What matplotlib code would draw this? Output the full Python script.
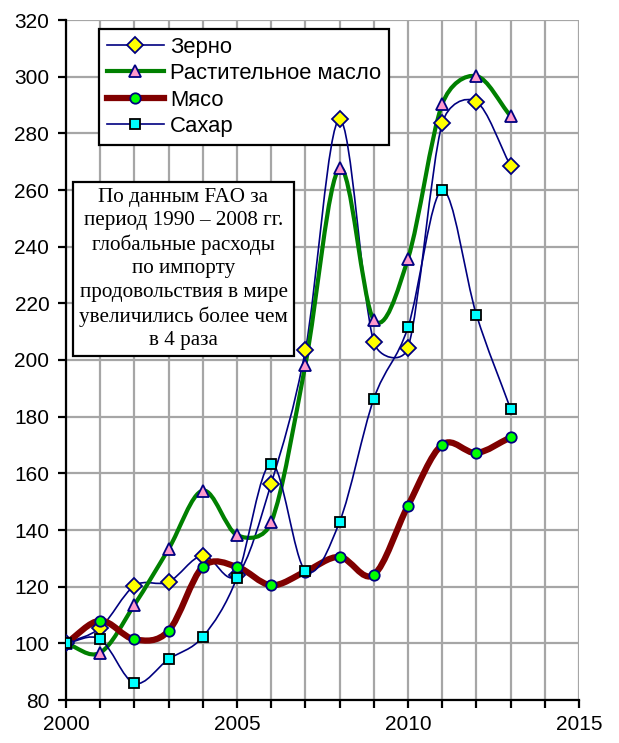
import numpy as np
import matplotlib
matplotlib.use("Agg")
import matplotlib.pyplot as plt
from matplotlib.path import Path
from matplotlib.patches import PathPatch
from matplotlib.lines import Line2D

# data (index, 2000 = 100)
years = list(range(2000, 2014))
grain = [100, 105.5, 120.3, 121.7, 131, 124, 156.4, 203.6, 284.9, 206.3, 204.3, 283.5, 291.1, 268.5]
veg_oil = [100, 96.7, 113.6, 133.3, 153.9, 138.2, 142.7, 198.4, 267.6, 214.2, 235.8, 290.3, 300.2, 286.1]
meat = [100, 108, 101.4, 104.4, 127, 127, 120.5, 125.3, 130.5, 124.2, 148.6, 170.1, 167.2, 172.7]
sugar = [100, 101.4, 85.9, 94.4, 102.3, 123.2, 163.4, 125.6, 142.9, 186.3, 211.6, 259.9, 216, 182.7]

labels = ["Зерно", "Растительное масло", "Мясо", "Сахар"]
note = ("По данным FAO за\nпериод 1990 – 2008 гг.\nглобальные расходы\nпо импорту\n"
        "продовольствия в мире\nувеличились более чем\nв 4 раза")

NAVY = "#000080"


def smooth_path(ax, x, y):
    # excel-like smoothed line, control points worked out in screen space
    tr = ax.transData
    p = tr.transform(np.column_stack([x, y]))
    n = len(p)
    verts = [p[0]]
    codes = [Path.MOVETO]
    for i in range(n - 1):
        p1, p2 = p[i], p[i + 1]
        p0 = p[i - 1] if i > 0 else p1
        p3 = p[i + 2] if i + 2 < n else p2
        d12 = np.hypot(*(p2 - p1))
        d02 = np.hypot(*(p2 - p0))
        d13 = np.hypot(*(p3 - p1))
        f1 = 1 / 6 if i > 0 else 1 / 3
        f2 = 1 / 6 if i + 2 < n else 1 / 3
        f1 = min(f1, d12 / 2 / d02)
        f2 = min(f2, d12 / 2 / d13)
        c1 = p1 + (p2 - p0) * f1
        c2 = p2 - (p3 - p1) * f2
        verts += [c1, c2, p2]
        codes += [Path.CURVE4] * 3
    verts = tr.inverted().transform(np.array(verts))
    return Path(verts, codes)


fig = plt.figure(figsize=(6.19, 7.43), dpi=100)
ax = fig.add_axes([66 / 619, 1 - 700 / 743, (579 - 66) / 619, (700 - 20) / 743])
ax.set_xlim(2000, 2015)
ax.set_ylim(80, 320)

series = [
    (grain, NAVY, 1.2, "D", "#ffff00", 8),
    (veg_oil, "#008000", 3.0, "^", "#ff99cc", 9),
    (meat, "#800000", 4.5, "o", "#00ff00", 7.5),
    (sugar, NAVY, 1.2, "s", "#00ffff", 7.5),
]

handles = []
for (vals, lc, lw, mk, mfc, ms), lab in zip(series, labels):
    ax.add_patch(PathPatch(smooth_path(ax, years, vals), fill=False, edgecolor=lc, lw=lw, zorder=3))
for (vals, lc, lw, mk, mfc, ms), lab in zip(series, labels):
    mec = "black" if mk == "s" else NAVY
    ax.plot(years, vals, ls="none", marker=mk, ms=ms, mfc=mfc, mec=mec, mew=1.3, zorder=4)
    handles.append(Line2D([0], [0], color=lc, lw=lw, marker=mk, ms=ms, mfc=mfc, mec=mec, mew=1.3))

ax.set_xticks([2000, 2005, 2010, 2015])
ax.set_xticks(range(2000, 2016), minor=True)
ax.set_yticks(range(80, 321, 20))
ax.grid(True, which="both", color="#a6a6a6", lw=1.6, zorder=0)
ax.set_axisbelow(True)
for s in ["top", "right"]:
    ax.spines[s].set_visible(False)
for s in ["left", "bottom"]:
    ax.spines[s].set_linewidth(1.6)
ax.tick_params(which="both", direction="out", length=6, width=1.6)
ax.tick_params(axis="y", labelsize=15, pad=6)
ax.tick_params(axis="x", labelsize=15, pad=5)
for t in ax.get_xticklabels() + ax.get_yticklabels():
    t.set_family("Liberation Sans")

leg = ax.legend(handles, labels, loc="upper left", bbox_to_anchor=(33 / 513, 1 - 9 / 680),
                prop={"family": "Liberation Sans", "size": 15.8}, fancybox=False,
                framealpha=1, edgecolor="black", handlelength=2.6, borderpad=0.35,
                labelspacing=0.25, handletextpad=0.3, borderaxespad=0)
leg.get_frame().set_linewidth(1.6)
leg.set_zorder(2.5)

ax.text((183.5 - 66) / 513, 1 - 249 / 680, note, transform=ax.transAxes, ha="center", va="center",
        family="Liberation Serif", fontsize=15.2, linespacing=1.3, zorder=5,
        bbox=dict(boxstyle="square,pad=0.28", fc="white", ec="black", lw=1.6))

fig.savefig("out.png", dpi=100)
